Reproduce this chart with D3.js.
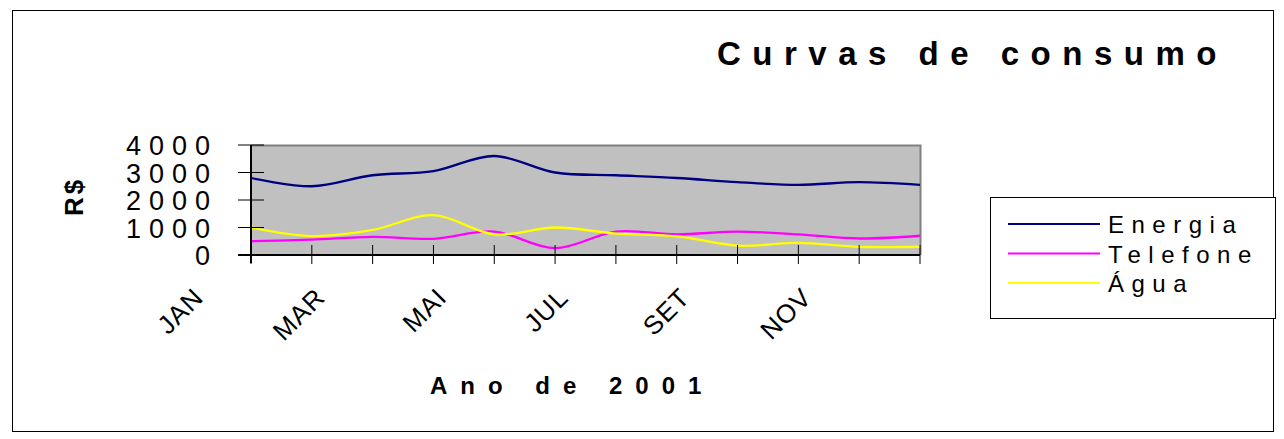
<!doctype html>
<html>
<head>
<meta charset="utf-8">
<script src="https://cdnjs.cloudflare.com/ajax/libs/d3/7.8.5/d3.min.js"></script>
<style>
  body { margin: 0; background: #fff; }
  text { font-family: "Liberation Sans", Arial, sans-serif; fill: #000; }
</style>
</head>
<body>
<svg width="1284" height="439"></svg>
<script>
// monthly values
var months = ["JAN","FEV","MAR","ABR","MAI","JUN","JUL","AGO","SET","OUT","NOV","DEZ"];
var energia  = [2800, 2500, 2900, 3050, 3600, 3000, 2900, 2800, 2650, 2550, 2650, 2550];
var telefone = [500, 560, 660, 590, 850, 250, 850, 750, 850, 750, 600, 700];
var agua     = [1000, 690, 910, 1450, 750, 1000, 780, 680, 340, 440, 300, 300];
var yTicks = [0, 1000, 2000, 3000, 4000];
var labelled = ["JAN","MAR","MAI","JUL","SET","NOV"];

var series = [
  {name: "Energia",  values: energia,  color: "#000080"},
  {name: "Telefone", values: telefone, color: "#ff00ff"},
  {name: "\u00c1gua", values: agua,    color: "#ffff00"}
];

var svg = d3.select("svg");

// outer frame
svg.append("rect")
   .attr("x", 12.5).attr("y", 10.5)
   .attr("width", 1261).attr("height", 421)
   .attr("fill", "#fff").attr("stroke", "#000");

var pLeft = 251, pRight = 920, pTop = 145, pBottom = 255;

var x = d3.scalePoint().domain(months).range([pLeft, pRight]);
var y = d3.scaleLinear().domain([0, 4000]).range([pBottom, pTop]);

// plot area
svg.append("rect")
   .attr("x", pLeft).attr("y", pTop)
   .attr("width", pRight - pLeft).attr("height", pBottom - pTop)
   .attr("fill", "#c0c0c0");
svg.append("path")
   .attr("d", "M" + pLeft + "," + (pTop + 0.5) + "H" + (pRight + 0.5) + "V" + pBottom)
   .attr("fill", "none").attr("stroke", "#808080").attr("stroke-width", 2);

var line = d3.line()
   .x((d, i) => x(months[i]))
   .y(d => y(d))
   .curve(d3.curveCatmullRom.alpha(0));

svg.selectAll(".serie").data(series)
   .enter()
   .append("path")
   .attr("class", "serie")
   .attr("d", d => line(d.values))
   .attr("fill", "none")
   .attr("stroke", d => d.color)
   .attr("stroke-width", 2.3);

// y axis
var yAxis = svg.append("g").attr("transform", "translate(" + pLeft + ",0)");
yAxis.append("line").attr("x1", 0).attr("x2", 0).attr("y1", pTop).attr("y2", pBottom + 8)
   .attr("stroke", "#000").attr("stroke-width", 2);
yAxis.selectAll(".yt").data(yTicks).enter()
   .append("line")
   .attr("x1", -13).attr("x2", 13)
   .attr("y1", d => y(d)).attr("y2", d => y(d))
   .attr("stroke", "#000");
yAxis.selectAll(".yl").data(yTicks).enter()
   .append("text")
   .attr("x", -33)
   .attr("y", d => y(d) + 10)
   .attr("text-anchor", "end")
   .attr("font-size", 27)
   .attr("letter-spacing", 8)
   .text(d => d);

// x axis
var xAxis = svg.append("g").attr("transform", "translate(0," + pBottom + ")");
xAxis.append("line").attr("x1", pLeft - 13).attr("x2", pRight).attr("y1", 0).attr("y2", 0)
   .attr("stroke", "#000").attr("stroke-width", 2);
xAxis.selectAll(".xt").data(months).enter()
   .append("line")
   .attr("x1", d => x(d)).attr("x2", d => x(d))
   .attr("y1", -10).attr("y2", 9)
   .attr("stroke", "#000");
xAxis.selectAll(".xl").data(labelled).enter()
   .append("text")
   .attr("transform", d => "translate(" + (x(d) - 46) + ",44) rotate(-45)")
   .attr("text-anchor", "end")
   .attr("font-size", 26)
   .attr("letter-spacing", 1)
   .text(d => d);

// titles
svg.append("text")
   .attr("x", 717).attr("y", 65)
   .attr("font-size", 33).attr("font-weight", "bold")
   .attr("letter-spacing", 11.5)
   .text("Curvas de consumo");

svg.append("text")
   .attr("x", 430).attr("y", 394)
   .attr("font-size", 24).attr("font-weight", "bold")
   .attr("letter-spacing", 13)
   .text("Ano de 2001");

svg.append("text")
   .attr("transform", "translate(83,216) rotate(-90)")
   .attr("font-size", 26).attr("font-weight", "bold")
   .attr("letter-spacing", 3)
   .text("R$");

// legend
var legend = svg.append("g");
legend.append("rect")
   .attr("x", 990.5).attr("y", 197.5)
   .attr("width", 285).attr("height", 121)
   .attr("fill", "#fff").attr("stroke", "#000");
var item = legend.selectAll(".item").data(series).enter()
   .append("g")
   .attr("transform", (d, i) => "translate(0," + (224 + i * 29.5) + ")");
item.append("line")
   .attr("x1", 1008).attr("x2", 1100)
   .attr("stroke", d => d.color).attr("stroke-width", 2);
item.append("text")
   .attr("x", 1108).attr("y", 9)
   .attr("font-size", 24)
   .attr("letter-spacing", 7.5)
   .text(d => d.name);
</script>
</body>
</html>
